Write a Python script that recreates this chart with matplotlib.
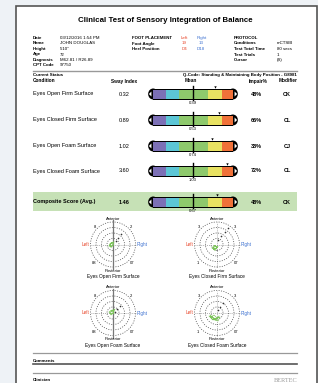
import matplotlib
matplotlib.use('Agg')
import matplotlib.pyplot as plt
from matplotlib.patches import Rectangle, Circle, Ellipse, Polygon

plt.rcParams['font.family'] = ['Liberation Sans', 'DejaVu Sans']

W, H = 318, 383

# ---- data ----
title = 'Clinical Test of Sensory Integration of Balance'
patient_labels = ['Date', 'Name', 'Height', 'Age', 'Diagnosis', 'CPT Code']
patient_values = ['03/12/2016 1:54 PM', 'JOHN DOUGLAS', '5\'10"', '72', 'M62.81 / R26.89', '97750']
foot_labels = ['Foot Angle', 'Heel Position']
foot_left = ['19', 'D4']
foot_right = ['13', 'D18']
protocol_labels = ['Conditions', 'Test Total Time', 'Test Trials', 'Cursor']
protocol_values = ['mCTSIB', '80 secs', '1', '(S)']

conditions = ['Eyes Open Firm Surface', 'Eyes Closed Firm Surface',
              'Eyes Open Foam Surface', 'Eyes Closed Foam Surface',
              'Composite Score (Avg.)']
sway_index = [0.32, 0.89, 1.02, 3.60, 1.46]
norm_mean = [0.39, 0.53, 0.74, 1.03, 0.67]
marker_pos = [51, 61, 44, 79, 56]          # position on the -100..100 scale
impair_pct = [48, 66, 38, 72, 48]
modifier = ['CK', 'CL', 'CJ', 'CL', 'CK']

seg_edges = [-93, -63, -33, 35, 68, 93]
seg_colors = ['#7c70b6', '#5cc6d6', '#8ec96c', '#e8e262', '#f07139']

plot_titles = ['Eyes Open Firm Surface', 'Eyes Closed Firm Surface',
               'Eyes Open Foam Surface', 'Eyes Closed Foam Surface']
corner_labels = [['8', '2', '88', '07'], ['3', '3', '1', '07'],
                 ['8', '2', '88', '07'], ['3', '3', '1', '07']]
sway_x = [[-3, -1, 0, -2, -4, -2, 1, 0, -2, -3, -1, -4],
          [-4, -2, 0, -3, -5, -1, 1, -2, -4, -2, 0, -3],
          [-2, 0, 1, -1, -3, -1, 2, 0, -2, -4, -1, 1],
          [-6, -3, 0, -4, -8, -2, 3, 1, -5, -7, -1, 2]]
sway_y = [[1, 2, 0, -2, -1, 1, 3, -1, -3, 0, 2, -2],
          [-2, -1, -3, -5, -3, -4, -2, -6, -4, -1, -3, -5],
          [2, 3, 1, -1, 0, 2, 4, 0, -2, 1, 3, -1],
          [-4, -2, -5, -7, -3, -6, -4, -8, -6, -2, -7, -3]]
dots_x = [[3, 5, 8], [1, 4, 8, 11], [2, 4, 7], [1, 3, 6]]
dots_y = [[4, 7, 11], [5, 9, 13, 17], [1, 4, 7], [3, 6, 10]]
vert_line = [True, False, True, False]

fig = plt.figure(figsize=(W / 100, H / 100), dpi=100)
fig.patch.set_facecolor('#eef2f6')
ax = fig.add_axes([0, 0, 1, 1])
ax.set_xlim(0, W)
ax.set_ylim(H, 0)
ax.axis('off')

# page
ax.add_patch(Rectangle((16, 5.5), 300.5, 390, facecolor='white', edgecolor='#555555', lw=1.2))

ax.text(165, 21, title, ha='center', va='center', fontsize=5.7, fontweight='bold')

# header
row_y = [38, 43.5, 49, 54.5, 60, 65.5]
fs = 3.2
for y, lab, val in zip(row_y, patient_labels, patient_values):
    ax.text(33, y, lab, fontsize=fs, va='center', fontweight='bold')
    ax.text(60, y, val, fontsize=fs, va='center')
ax.text(132, row_y[0], 'FOOT PLACEMENT', fontsize=fs, va='center', fontweight='bold')
ax.text(181, row_y[0], 'Left', fontsize=fs, va='center', color='#e8462a')
ax.text(197, row_y[0], 'Right', fontsize=fs, va='center', color='#3a6fd0')
for y, lab, l, r in zip(row_y[1:], foot_labels, foot_left, foot_right):
    ax.text(132, y, lab, fontsize=fs, va='center', fontweight='bold')
    ax.text(184, y, l, fontsize=fs, va='center', ha='center', color='#e8462a')
    ax.text(201, y, r, fontsize=fs, va='center', ha='center', color='#3a6fd0')
ax.text(234, row_y[0], 'PROTOCOL', fontsize=fs, va='center', fontweight='bold')
for y, lab, val in zip(row_y[1:], protocol_labels, protocol_values):
    ax.text(234, y, lab, fontsize=fs, va='center', fontweight='bold')
    ax.text(277, y, val, fontsize=fs, va='center')

ax.plot([33, 297], [71, 71], color='#999999', lw=1.0)
ax.text(33, 75, 'Current Status', fontsize=fs, va='center', fontweight='bold')
ax.text(297, 75, 'Q-Code: Standing & Maintaining Body Position - G8981',
        fontsize=fs, va='center', ha='right', fontweight='bold')
ax.text(33, 81, 'Condition', fontsize=3.4, va='center', fontweight='bold')
ax.text(124, 81, 'Sway Index', fontsize=3.4, va='center', ha='center', fontweight='bold')
ax.text(191, 81, 'Mean', fontsize=3.4, va='center', ha='center', fontweight='bold')
ax.text(258, 81, 'Impair%', fontsize=3.4, va='center', ha='center', fontweight='bold')
ax.text(288, 81, 'Modifier', fontsize=3.4, va='center', ha='center', fontweight='bold')

# condition rows
row_cy = [94, 120, 146, 171, 202]
ax.add_patch(Rectangle((33, 192), 264, 19, facecolor='#c6e1b6', edgecolor='none'))
for i, cy in enumerate(row_cy):
    bold = 'bold' if i == 4 else 'normal'
    ax.text(33, cy, conditions[i], fontsize=4, va='center', fontweight=bold)
    ax.text(124, cy, '%.2f' % sway_index[i], fontsize=4, va='center', ha='center', fontweight=bold)
    ax.text(256, cy, '%d%%' % impair_pct[i], fontsize=4, va='center', ha='center', fontweight='bold')
    ax.text(287, cy, modifier[i], fontsize=4, va='center', ha='center', fontweight='bold')

    bx = fig.add_axes([148 / W, 1 - (cy + 9) / H, 90 / W, 18 / H])
    bx.set_xlim(-105, 105)
    bx.set_ylim(-9, 9)
    bx.axis('off')
    bx.patch.set_alpha(0)
    bx.add_patch(Rectangle((-93, -5.5), 186, 11, facecolor='black', edgecolor='none'))
    bx.add_patch(Ellipse((-93, 0), 23.3, 11, facecolor='black', edgecolor='none'))
    bx.add_patch(Ellipse((93, 0), 23.3, 11, facecolor='black', edgecolor='none'))
    for j, c in enumerate(seg_colors):
        bx.add_patch(Rectangle((seg_edges[j], -4.5), seg_edges[j + 1] - seg_edges[j], 9,
                               facecolor=c, edgecolor='none'))
    bx.add_patch(Polygon([(-103, 0), (-97, 2.5), (-97, -2.5)], facecolor='white', edgecolor='none'))
    bx.add_patch(Polygon([(103, 0), (97, 2.5), (97, -2.5)], facecolor='white', edgecolor='none'))
    bx.plot([0, 0], [-6, 8], color='black', lw=1.0)
    bx.scatter([marker_pos[i]], [7.2], marker='v', s=3, color='black', lw=0)
    bx.text(0, -6.6, '%.2f' % norm_mean[i], fontsize=3, ha='center', va='top')

# stabilograms
centers = [(113, 244.5), (217, 244.5), (113, 313), (217, 313)]
R = 22.5
for k, (cx, cy) in enumerate(centers):
    px = fig.add_axes([(cx - 30) / W, 1 - (cy + 30) / H, 60 / W, 60 / H])
    px.set_xlim(-30, 30)
    px.set_ylim(-30, 30)
    px.axis('off')
    px.patch.set_alpha(0)
    for r in [6, 11.5, 17, R]:
        px.add_patch(Circle((0, 0), r, fill=False, edgecolor='#444444', lw=0.5,
                            linestyle=(0, (1.5, 2))))
    px.plot([-R, R], [0, 0], color='#666666', lw=0.4, linestyle=(0, (1.5, 2)))
    if vert_line[k]:
        px.plot([0, 0], [-R - 2, R + 2], color='#777777', lw=0.9)
    else:
        px.plot([0, 0], [-R, R], color='#666666', lw=0.4, linestyle=(0, (1.5, 2)))
    px.plot(sway_x[k], sway_y[k], color='#7cc45a', lw=0.5)
    px.plot(dots_x[k], dots_y[k], 'o', color='#333333', ms=1.2, mew=0)
    px.text(0, R + 3.5, 'Anterior', fontsize=3, ha='center', va='center')
    px.text(0, -R - 3.5, 'Posterior', fontsize=3, ha='center', va='center')
    px.text(-R - 4.5, 0, 'Left', fontsize=3.3, ha='center', va='center', color='#e8462a')
    px.text(R + 7, 0, 'Right', fontsize=3.3, ha='center', va='center', color='#3a6fd0')
    cl = corner_labels[k]
    px.text(-18, 17, cl[0], fontsize=3, ha='center', va='center')
    px.text(18, 17, cl[1], fontsize=3, ha='center', va='center')
    px.text(-19, -19, cl[2], fontsize=3, ha='center', va='center')
    px.text(19, -19, cl[3], fontsize=3, ha='center', va='center')
    px.text(0, -R - 9.5, plot_titles[k], fontsize=3.4, ha='center', va='center')

# footer
ax.plot([33, 297], [353, 353], color='#999999', lw=0.9)
ax.text(33, 360.5, 'Comments', fontsize=3.2, va='center', fontweight='bold')
ax.plot([33, 297], [364, 364], color='#555555', lw=1.2)
ax.plot([33, 297], [373, 373], color='#999999', lw=0.9)
ax.text(33, 380, 'Clinician', fontsize=3.2, va='center', fontweight='bold')
ax.text(297, 380, 'BERTEC', fontsize=4.5, va='center', ha='right', color='#999999',
        family='Liberation Serif')

plt.savefig('out.png', dpi=100)
